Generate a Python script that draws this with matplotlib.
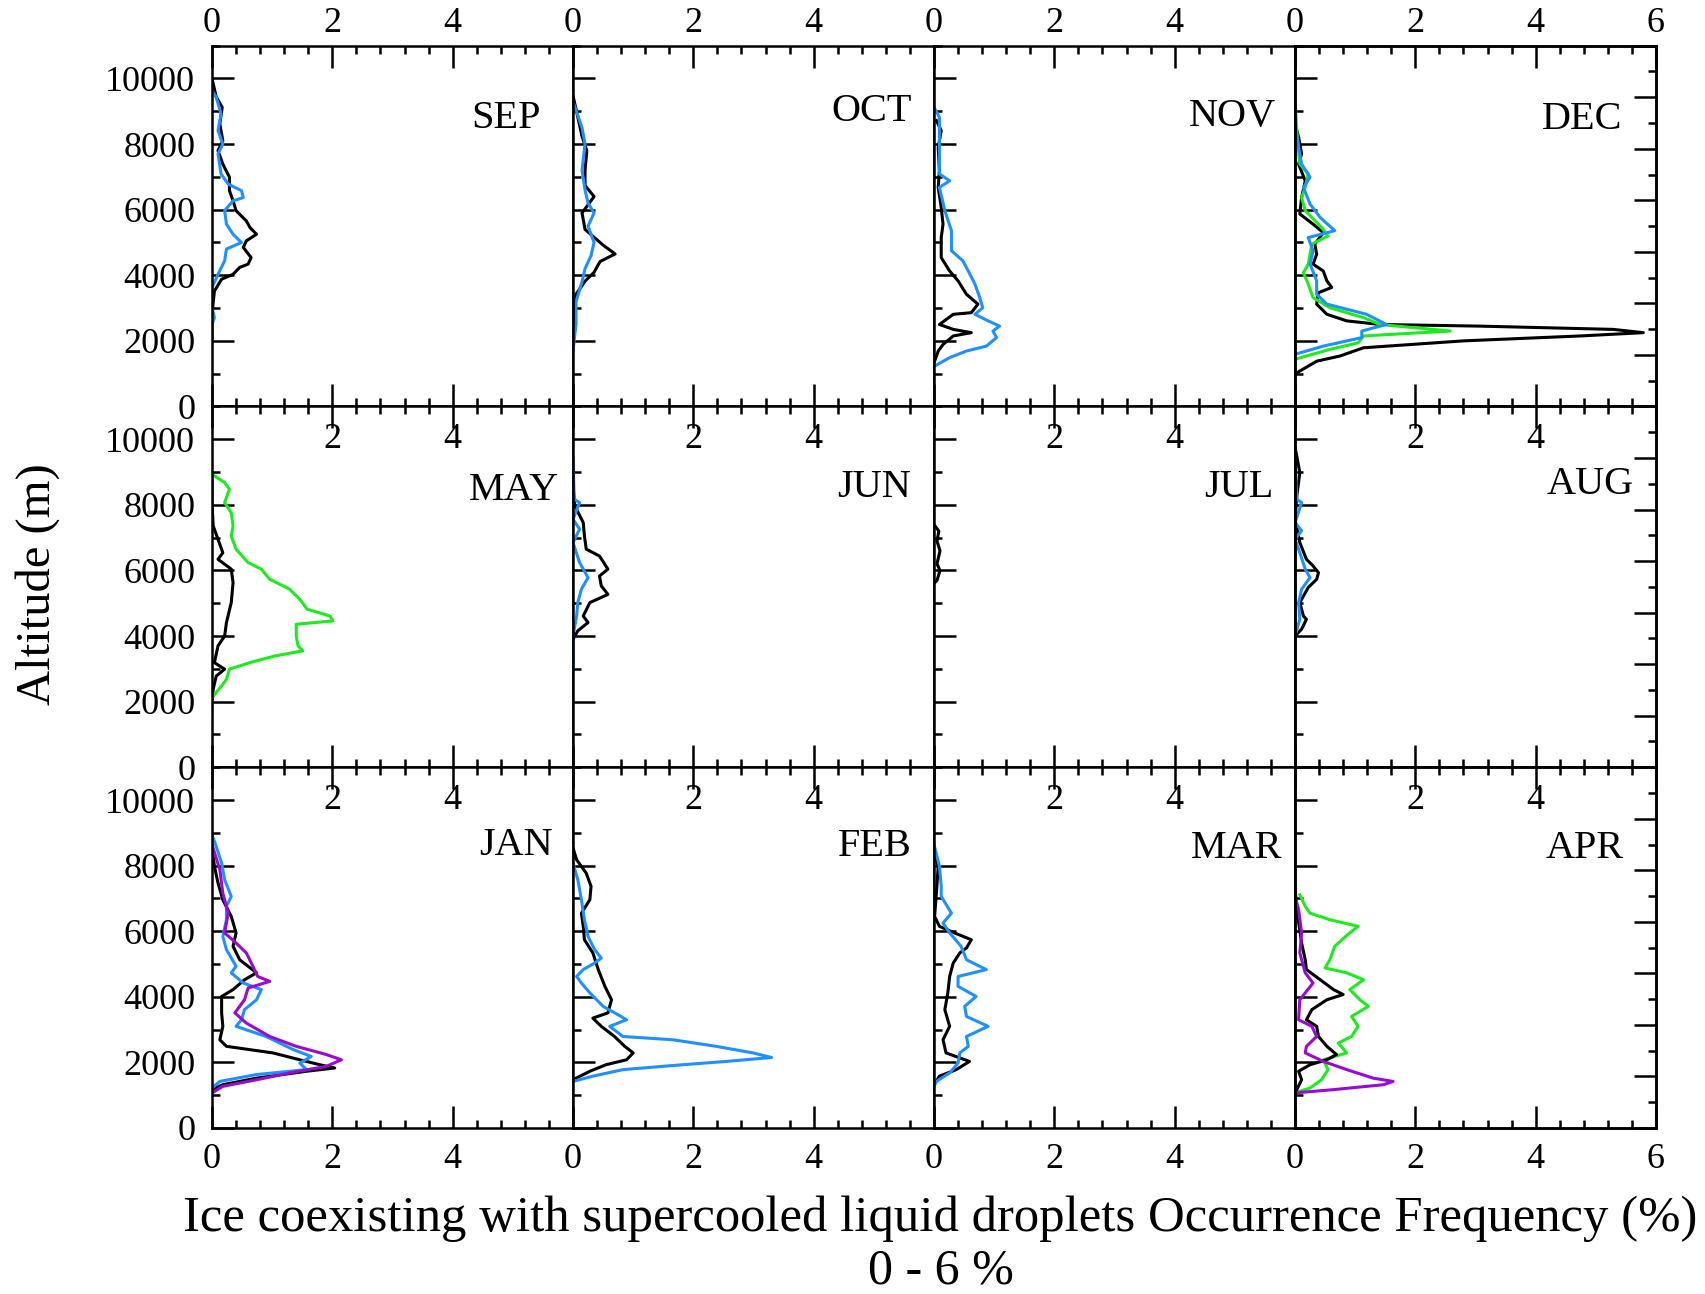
import matplotlib
matplotlib.use('Agg')
import matplotlib.pyplot as plt
from matplotlib.ticker import MultipleLocator, FixedFormatter, FixedLocator

plt.rcParams['font.family'] = 'serif'
plt.rcParams['font.serif'] = ['Liberation Serif', 'DejaVu Serif']

# panel order, row by row
months = [['SEP', 'OCT', 'NOV', 'DEC'],
          ['MAY', 'JUN', 'JUL', 'AUG'],
          ['JAN', 'FEB', 'MAR', 'APR']]

# profiles: altitude (m) and occurrence frequency (%)
sep_black_alt = [10000, 9440, 9120, 8620, 8100, 7800, 7390, 6990, 6580, 6270, 5970, 5660, 5460, 5250, 5050, 4850, 4540, 4340, 4240, 4030, 3880, 3520, 2810, 2100]
sep_black_val = [0.0, 0.07, 0.17, 0.13, 0.18, 0.1, 0.18, 0.29, 0.29, 0.35, 0.4, 0.57, 0.63, 0.74, 0.57, 0.52, 0.65, 0.6, 0.46, 0.35, 0.16, 0.04, 0.0, 0.0]
sep_blue_alt = [9630, 9430, 8920, 8410, 8000, 7700, 7090, 6780, 6580, 6370, 6270, 5970, 5560, 5250, 5000, 4800, 4440, 4030, 3630, 3010, 2710, 2500]
sep_blue_val = [0.0, 0.07, 0.15, 0.1, 0.18, 0.1, 0.15, 0.27, 0.49, 0.52, 0.35, 0.21, 0.24, 0.35, 0.49, 0.24, 0.21, 0.1, 0.0, 0.0, 0.04, 0.0]

oct_black_alt = [9470, 9070, 8240, 7800, 7200, 6740, 6400, 5900, 5400, 5080, 4920, 4650, 4420, 4090, 3820, 3420, 2760, 2400]
oct_black_val = [0.0, 0.05, 0.15, 0.23, 0.2, 0.2, 0.35, 0.15, 0.2, 0.4, 0.5, 0.7, 0.45, 0.35, 0.2, 0.05, 0.02, 0.0]
oct_blue_alt = [9300, 8500, 8000, 7200, 6600, 6200, 5900, 5500, 5000, 4600, 4200, 3800, 3200, 2500, 1700]
oct_blue_val = [0.0, 0.15, 0.2, 0.15, 0.2, 0.25, 0.35, 0.25, 0.35, 0.3, 0.2, 0.15, 0.05, 0.05, 0.0]

nov_black_alt = [8720, 8410, 7900, 7190, 6680, 6070, 5560, 5150, 4540, 4130, 3830, 3420, 3120, 2860, 2810, 2500, 2350, 2250, 2150, 1890, 1690, 1380]
nov_black_val = [0.04, 0.12, 0.07, 0.09, 0.07, 0.12, 0.15, 0.12, 0.12, 0.26, 0.4, 0.54, 0.73, 0.62, 0.32, 0.09, 0.32, 0.62, 0.32, 0.15, 0.07, 0.01]
nov_blue_alt = [9120, 8820, 8000, 7090, 6880, 6680, 5970, 5360, 4750, 4440, 4130, 3730, 3320, 3010, 2810, 2610, 2450, 2300, 2100, 1840, 1690, 1490, 1230]
nov_blue_val = [0.0, 0.09, 0.09, 0.09, 0.26, 0.09, 0.18, 0.29, 0.29, 0.48, 0.57, 0.68, 0.76, 0.81, 0.68, 0.9, 1.09, 0.98, 1.04, 0.87, 0.54, 0.26, 0.01]

dec_black_alt = [8620, 8210, 7700, 7390, 6880, 6370, 5870, 5560, 5300, 4950, 4640, 4340, 4130, 3830, 3630, 3470, 3120, 2810, 2610, 2500, 2450, 2350, 2250, 2150, 2000, 1790, 1540, 1380, 1080, 980]
dec_black_val = [0.0, 0.06, 0.11, 0.06, 0.17, 0.11, 0.08, 0.3, 0.47, 0.33, 0.36, 0.3, 0.47, 0.53, 0.61, 0.39, 0.36, 0.53, 0.86, 1.41, 3.07, 5.29, 5.79, 4.74, 2.8, 1.14, 0.75, 0.36, 0.08, 0.0]
dec_green_alt = [9330, 8410, 7390, 7090, 6680, 6370, 5970, 5460, 5200, 4950, 4340, 4080, 3730, 3320, 3010, 2710, 2500, 2300, 2150, 1940, 1740, 1440]
dec_green_val = [0.0, 0.03, 0.08, 0.22, 0.17, 0.11, 0.17, 0.44, 0.55, 0.28, 0.22, 0.14, 0.22, 0.3, 0.58, 1.14, 1.41, 2.58, 1.14, 1.05, 0.58, 0.0]
dec_blue_alt = [8620, 7900, 7390, 6990, 6680, 6170, 5760, 5360, 5150, 4750, 4340, 3830, 3420, 3120, 2810, 2500, 2300, 2100, 1840, 1590]
dec_blue_val = [0.0, 0.06, 0.11, 0.25, 0.14, 0.25, 0.42, 0.66, 0.22, 0.3, 0.25, 0.36, 0.36, 0.53, 1.19, 1.52, 1.11, 1.11, 0.47, 0.0]

may_green_alt = [8930, 8680, 8480, 8070, 7760, 7360, 7050, 6650, 6240, 6040, 5730, 5430, 5120, 4820, 4610, 4460, 4360, 4000, 3700, 3550, 3390, 3190, 2990, 2680, 2480, 2120, 1560]
may_green_val = [0.0, 0.21, 0.29, 0.21, 0.32, 0.35, 0.32, 0.4, 0.6, 0.82, 0.96, 1.29, 1.46, 1.58, 1.96, 2.01, 1.4, 1.4, 1.43, 1.51, 1.04, 0.63, 0.29, 0.24, 0.16, 0.0, 0.0]
may_black_alt = [8780, 8070, 7360, 6950, 6540, 6340, 6040, 5630, 5020, 4410, 4000, 3700, 3190, 2990, 2780, 2380, 1970]
may_black_val = [0.0, 0.0, 0.02, 0.1, 0.18, 0.1, 0.32, 0.35, 0.32, 0.24, 0.21, 0.1, 0.04, 0.21, 0.07, 0.02, 0.0]

jun_black_alt = [8580, 7970, 7460, 7050, 6650, 6440, 6040, 5830, 5530, 5270, 5020, 4610, 4410, 4160, 3900]
jun_black_val = [0.0, 0.03, 0.17, 0.19, 0.22, 0.44, 0.58, 0.44, 0.47, 0.58, 0.28, 0.17, 0.25, 0.08, 0.0]
jun_blue_alt = [9440, 8170, 8070, 7560, 7260, 6850, 6240, 5780, 5430, 5020, 4610, 4000, 3390, 3000]
jun_blue_val = [0.0, 0.02, 0.11, 0.0, 0.11, 0.0, 0.11, 0.25, 0.14, 0.08, 0.06, 0.0, 0.0, 0.0]

jul_black_alt = [7400, 7200, 6900, 6600, 6200, 6000, 5700, 5600]
jul_black_val = [0.0, 0.08, 0.05, 0.1, 0.05, 0.1, 0.05, 0.0]

aug_black_alt = [9750, 9490, 8980, 8270, 7560, 6850, 6340, 6140, 5930, 5730, 5480, 5020, 4610, 4510, 4210, 4000]
aug_black_val = [0.0, 0.03, 0.08, 0.03, 0.0, 0.08, 0.19, 0.3, 0.39, 0.36, 0.22, 0.08, 0.14, 0.19, 0.11, 0.0]
aug_blue_alt = [9440, 8170, 8070, 7460, 7210, 6950, 6540, 6040, 5780, 5430, 5020, 4510, 4000, 3390, 2990]
aug_blue_val = [0.0, 0.03, 0.11, 0.0, 0.11, 0.0, 0.08, 0.17, 0.25, 0.11, 0.06, 0.08, 0.0, 0.0, 0.0]

jan_black_alt = [8590, 7980, 7470, 6960, 6450, 5950, 5540, 5130, 4730, 4520, 4220, 4010, 3510, 3100, 2690, 2490, 2290, 2080, 1930, 1830, 1730, 1520, 1320, 1170]
jan_black_val = [0.0, 0.04, 0.1, 0.18, 0.32, 0.4, 0.35, 0.46, 0.74, 0.54, 0.35, 0.16, 0.16, 0.18, 0.13, 0.24, 1.01, 1.46, 1.79, 2.04, 1.57, 0.74, 0.18, 0.0]
jan_blue_alt = [8940, 8590, 8080, 7570, 7060, 6760, 6350, 5840, 5440, 4930, 4730, 4420, 4220, 3910, 3610, 3300, 3100, 2790, 2390, 2180, 1980, 1780, 1630, 1420, 1220]
jan_blue_val = [0.0, 0.07, 0.16, 0.21, 0.32, 0.24, 0.24, 0.18, 0.24, 0.4, 0.32, 0.52, 0.82, 0.74, 0.54, 0.49, 0.4, 0.9, 1.35, 1.65, 1.46, 1.57, 0.74, 0.13, 0.0]
jan_purple_alt = [8640, 7880, 7160, 6550, 5950, 5640, 5340, 4930, 4620, 4470, 4270, 3910, 3510, 3200, 2790, 2490, 2240, 2080, 1880, 1680, 1470, 1270, 1070]
jan_purple_val = [0.0, 0.13, 0.18, 0.27, 0.21, 0.4, 0.57, 0.68, 0.76, 0.96, 0.6, 0.54, 0.38, 0.57, 0.96, 1.4, 1.9, 2.15, 1.9, 1.29, 0.74, 0.18, 0.0]

feb_black_alt = [8540, 8180, 7770, 7370, 6960, 6550, 6150, 5740, 5340, 4830, 4320, 3910, 3510, 3350, 3100, 2790, 2490, 2290, 2080, 1930, 1730, 1470]
feb_black_val = [0.0, 0.06, 0.22, 0.3, 0.28, 0.14, 0.17, 0.19, 0.33, 0.42, 0.53, 0.64, 0.58, 0.33, 0.47, 0.69, 0.86, 1.0, 0.89, 0.55, 0.28, 0.0]
feb_blue_alt = [8080, 7570, 6960, 6350, 5840, 5440, 5180, 5030, 4830, 4620, 4420, 4120, 3710, 3400, 3300, 3100, 2790, 2690, 2490, 2290, 2150, 2030, 1930, 1780, 1580, 1420]
feb_blue_val = [0.0, 0.08, 0.14, 0.19, 0.25, 0.36, 0.47, 0.36, 0.17, 0.06, 0.14, 0.28, 0.5, 0.8, 0.89, 0.61, 0.83, 1.66, 2.38, 2.99, 3.3, 2.55, 1.83, 0.83, 0.33, 0.0]

mar_black_alt = [8380, 7980, 7160, 6450, 6150, 5950, 5740, 5490, 5340, 5030, 4620, 4120, 3610, 3100, 2690, 2290, 2030, 1780, 1580, 1320]
mar_black_val = [0.0, 0.07, 0.04, 0.01, 0.09, 0.34, 0.62, 0.54, 0.43, 0.32, 0.26, 0.23, 0.18, 0.26, 0.15, 0.2, 0.59, 0.37, 0.09, 0.0]
mar_blue_alt = [8640, 7980, 7370, 7060, 6550, 6250, 5950, 5540, 5130, 4830, 4620, 4320, 4010, 3710, 3400, 3100, 2790, 2490, 2290, 1980, 1680, 1420, 1270]
mar_blue_val = [0.0, 0.09, 0.12, 0.12, 0.29, 0.15, 0.26, 0.45, 0.54, 0.87, 0.4, 0.4, 0.7, 0.51, 0.54, 0.9, 0.54, 0.57, 0.43, 0.4, 0.26, 0.04, 0.0]

apr_green_alt = [7110, 6760, 6550, 6350, 6150, 5950, 5540, 5130, 4880, 4730, 4520, 4220, 3910, 3710, 3400, 3100, 2790, 2590, 2290, 2080, 1780, 1470, 1220, 1120]
apr_green_val = [0.08, 0.17, 0.25, 0.58, 1.05, 0.91, 0.66, 0.58, 0.5, 0.86, 1.14, 0.91, 1.08, 1.22, 0.94, 1.05, 0.94, 0.72, 0.86, 0.47, 0.55, 0.44, 0.25, 0.08]
apr_black_alt = [7320, 6660, 5640, 5130, 4830, 4520, 4220, 4070, 3910, 3610, 3300, 3100, 2790, 2490, 2240, 2080, 1930, 1730, 1470, 1170]
apr_black_val = [0.0, 0.03, 0.11, 0.17, 0.19, 0.42, 0.64, 0.8, 0.53, 0.28, 0.19, 0.36, 0.39, 0.53, 0.69, 0.53, 0.25, 0.06, 0.11, 0.03]
apr_purple_alt = [7060, 6660, 5950, 5340, 4730, 4420, 3910, 3300, 3100, 2790, 2490, 2290, 2030, 1780, 1520, 1420, 1320, 1170, 1070]
apr_purple_val = [0.0, 0.06, 0.11, 0.08, 0.17, 0.3, 0.08, 0.06, 0.28, 0.36, 0.19, 0.17, 0.47, 0.86, 1.3, 1.63, 1.47, 0.64, 0.0]

colors = {'black': '#000000', 'blue': '#1E90FF', 'green': '#1EEB1E', 'purple': '#9A0AD0'}

profiles = {
    'SEP': [(sep_black_alt, sep_black_val, 'black'), (sep_blue_alt, sep_blue_val, 'blue')],
    'OCT': [(oct_black_alt, oct_black_val, 'black'), (oct_blue_alt, oct_blue_val, 'blue')],
    'NOV': [(nov_black_alt, nov_black_val, 'black'), (nov_blue_alt, nov_blue_val, 'blue')],
    'DEC': [(dec_black_alt, dec_black_val, 'black'), (dec_green_alt, dec_green_val, 'green'),
            (dec_blue_alt, dec_blue_val, 'blue')],
    'MAY': [(may_black_alt, may_black_val, 'black'), (may_green_alt, may_green_val, 'green')],
    'JUN': [(jun_black_alt, jun_black_val, 'black'), (jun_blue_alt, jun_blue_val, 'blue')],
    'JUL': [(jul_black_alt, jul_black_val, 'black')],
    'AUG': [(aug_black_alt, aug_black_val, 'black'), (aug_blue_alt, aug_blue_val, 'blue')],
    'JAN': [(jan_black_alt, jan_black_val, 'black'), (jan_blue_alt, jan_blue_val, 'blue'),
            (jan_purple_alt, jan_purple_val, 'purple')],
    'FEB': [(feb_black_alt, feb_black_val, 'black'), (feb_blue_alt, feb_blue_val, 'blue')],
    'MAR': [(mar_black_alt, mar_black_val, 'black'), (mar_blue_alt, mar_blue_val, 'blue')],
    'APR': [(apr_green_alt, apr_green_val, 'green'), (apr_black_alt, apr_black_val, 'black'),
            (apr_purple_alt, apr_purple_val, 'purple')],
}

# month label placement inside each panel (px from right edge, px below top)
label_dx = [[32, 22, 19, 34], [14, 23, 22, 22], [20, 22, 13, 32]]
label_dy = [[73, 66, 71, 74], [84, 81, 81, 78], [78, 79, 81, 81]]
panel_px = 361.0

W, H = 1706, 1294
fig = plt.figure(figsize=(W / 100, H / 100), dpi=100)
gs = fig.add_gridspec(3, 4, left=212 / W, right=1656 / W, top=1 - 45.7 / H, bottom=1 - 1128 / H,
                      wspace=0, hspace=0)

lw_axis = 1.8
for r in range(3):
    for c in range(4):
        name = months[r][c]
        ax = fig.add_subplot(gs[r, c])
        for alt, val, col in profiles[name]:
            ax.plot(val, alt, color=colors[col], lw=2.2)
        ax.set_xlim(0, 6)
        ax.set_ylim(0, 11000)
        ax.xaxis.set_major_locator(FixedLocator([0, 2, 4, 6]))
        labs = ['0', '2', '4', '6'] if c == 3 else ['0', '2', '4', '']
        ax.xaxis.set_major_formatter(FixedFormatter(labs))
        ax.xaxis.set_minor_locator(MultipleLocator(0.4))
        ax.yaxis.set_major_locator(MultipleLocator(2000))
        ax.yaxis.set_minor_locator(MultipleLocator(1000))
        ax.tick_params(which='both', direction='in', top=True, bottom=True, left=True, right=False,
                       labelbottom=(r == 2), labeltop=(r == 0), labelleft=(c == 0),
                       width=lw_axis)
        ax.tick_params(which='major', length=16)
        ax.tick_params(which='minor', length=6)
        ax.tick_params(axis='x', which='major', labelsize=26, pad=(4 if r == 0 else 11))
        ax.tick_params(axis='y', which='major', labelsize=26, pad=12)
        for sp in ax.spines.values():
            sp.set_linewidth(lw_axis)
        if r > 0:
            for xv in (2, 4):
                ax.text(xv, 1 - 33 / panel_px, str(xv), transform=ax.get_xaxis_transform(),
                        ha='center', va='center', fontsize=26)
        ax.text(1 - label_dx[r][c] / panel_px, 1 - label_dy[r][c] / panel_px, name,
                transform=ax.transAxes, ha='right', va='center', fontsize=29)
        if c == 3:
            tw = ax.twinx()
            tw.set_ylim(0, 14)
            tw.yaxis.set_major_locator(MultipleLocator(2))
            tw.yaxis.set_minor_locator(MultipleLocator(1))
            tw.tick_params(which='both', direction='in', right=True, labelright=False, width=lw_axis)
            tw.tick_params(which='major', length=16)
            tw.tick_params(which='minor', length=6)
            for sp in tw.spines.values():
                sp.set_linewidth(lw_axis)

fig.text(940 / W, 1 - 1219 / H,
         'Ice coexisting with supercooled liquid droplets Occurrence Frequency (%)',
         ha='center', va='center', fontsize=36.5)
fig.text(941 / W, 1 - 1271 / H, '0 - 6 %', ha='center', va='center', fontsize=36)
fig.text(38 / W, 1 - 584 / H, 'Altitude (m)', rotation=90, ha='center', va='center', fontsize=35)

fig.savefig('out.png', dpi=100)
